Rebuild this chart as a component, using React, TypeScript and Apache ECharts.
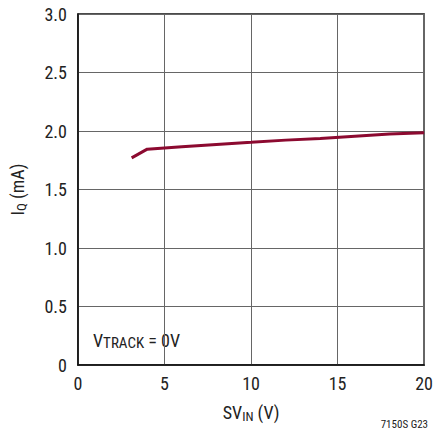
import React, { useEffect, useRef } from "react";
import * as echarts from "echarts";

const xValues = [3.1, 4, 5, 6, 8, 10, 12, 14, 16, 18, 20];
const iqValues = [1.77, 1.845, 1.855, 1.865, 1.885, 1.903, 1.922, 1.935, 1.955, 1.975, 1.985];
const xTicks = [0, 5, 10, 15, 20];
const yTicks = [0, 0.5, 1.0, 1.5, 2.0, 2.5, 3.0];

const FONT = "'Liberation Sans Narrow', 'Roboto Condensed', 'Liberation Sans', sans-serif";

export default function App() {
  const ref = useRef<HTMLDivElement>(null);
  useEffect(() => {
    if (!ref.current) return;
    const chart = echarts.init(ref.current, undefined, { renderer: "svg" });
    chart.setOption({
      animation: false,
      backgroundColor: "#fff",
      textStyle: { fontFamily: FONT },
      grid: {
        left: 77,
        top: 14,
        width: 351,
        height: 351,
        containLabel: false,
        show: true,
        borderColor: "#111",
        borderWidth: 1.5,
      },
      xAxis: {
        type: "value",
        min: xTicks[0],
        max: xTicks[xTicks.length - 1],
        interval: 5,
        axisLine: { show: true, lineStyle: { color: "#111", width: 1.5 } },
        axisTick: { show: false },
        splitLine: { show: true, lineStyle: { color: "#666", width: 1 } },
        axisLabel: { color: "#222", fontSize: 18, fontFamily: FONT, margin: 9 },
        name: "{m|SV}{s|IN}{m| (V)}",
        nameLocation: "middle",
        nameGap: 36,
        nameTextStyle: {
          rich: {
            m: { fontSize: 18, color: "#222", fontFamily: FONT },
            s: { fontSize: 13, color: "#222", fontFamily: FONT, verticalAlign: "bottom", padding: [9, 0, 0, 0] },
          },
        },
      },
      yAxis: {
        type: "value",
        min: yTicks[0],
        max: yTicks[yTicks.length - 1],
        interval: 0.5,
        axisLine: { show: true, lineStyle: { color: "#111", width: 1.5 } },
        axisTick: { show: false },
        splitLine: { show: true, lineStyle: { color: "#666", width: 1 } },
        axisLabel: {
          color: "#222",
          fontSize: 18,
          fontFamily: FONT,
          margin: 11,
          formatter: (v: number) => v.toFixed(1).replace(/^0\.0$/, "0"),
        },
        name: "{m|I}{s|Q}{m| (mA)}",
        nameLocation: "middle",
        nameGap: 50,
        nameRotate: 90,
        nameTextStyle: {
          rich: {
            m: { fontSize: 18, color: "#222", fontFamily: FONT },
            s: { fontSize: 13, color: "#222", fontFamily: FONT, verticalAlign: "bottom", padding: [9, 0, 0, 0] },
          },
        },
      },
      series: [
        {
          type: "line",
          data: xValues.map((x, i) => [x, iqValues[i]]),
          showSymbol: false,
          symbol: "none",
          lineStyle: { color: "#8c0a30", width: 3 },
          z: 5,
        },
      ],
      graphic: [
        {
          type: "text",
          left: 93,
          top: 331,
          style: {
            text: "{m|V}{s|TRACK}{m| = 0V}",
            rich: {
              m: { fontSize: 18, fill: "#222", fontFamily: FONT },
              s: { fontSize: 15, fill: "#222", fontFamily: FONT, padding: [6, 0, 0, 0] },
            },
          },
        },
        {
          type: "text",
          right: 8,
          top: 419,
          style: { text: "7150S G23", fontSize: 11, fill: "#222", fontFamily: FONT },
        },
      ],
    });
    return () => chart.dispose();
  }, []);
  return <div ref={ref} style={{ position: "fixed", left: 0, top: 0, width: 436, height: 436 }} />;
}
